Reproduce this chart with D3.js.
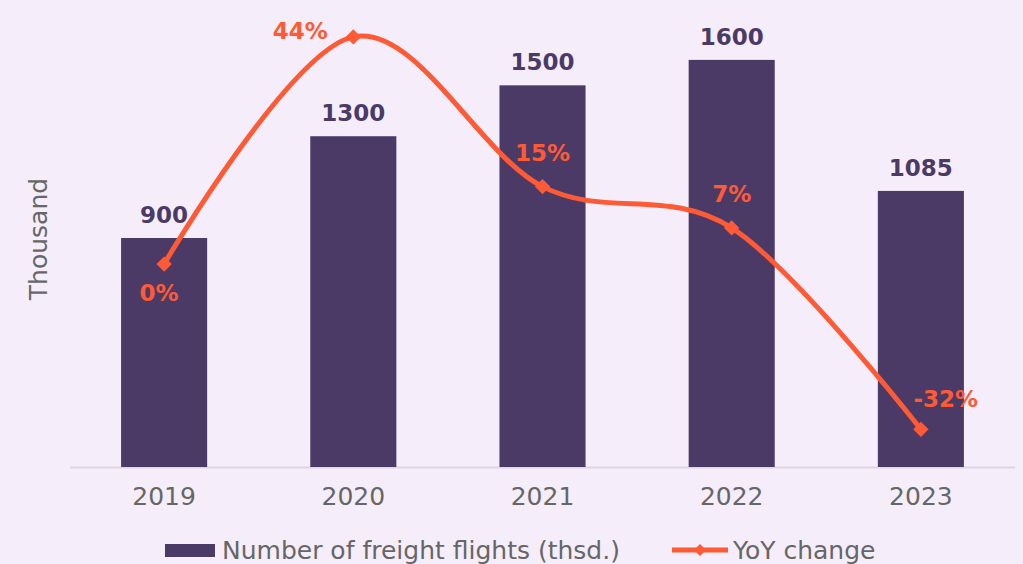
<!DOCTYPE html>
<html>
<head>
<meta charset="utf-8">
<script src="https://cdn.jsdelivr.net/npm/d3@7"></script>
<style>
  body { margin: 0; background: #f5eefa; }
  svg { display: block; font-family: "DejaVu Sans", sans-serif; }
</style>
</head>
<body>
<div id="chart"></div>
<script>
// chart data
let years = ["2019", "2020", "2021", "2022", "2023"];
let flights = [900, 1300, 1500, 1600, 1085];
let yoy = [0, 44, 15, 7, -32];
let yoyLabels = ["0%", "44%", "15%", "7%", "-32%"];

let w = 1023;
let h = 564;
let barColor = "#4b3a66";
let lineColor = "#ff5a36";

let svg = d3.select("#chart")
    .append("svg")
    .attr("width", w)
    .attr("height", h);

svg.append("rect")
    .attr("width", w)
    .attr("height", h)
    .attr("fill", "#f5eefa");

let xScale = d3.scaleBand()
    .domain(years)
    .range([70, 1015])
    .paddingInner(0.545)
    .paddingOuter(0.27);

let yScale = d3.scaleLinear()
    .domain([0, 1800])
    .range([467, 9]);

// second scale for the percent line
let pScale = d3.scaleLinear()
    .domain([-39.3, 49.4])
    .range([467, 9]);

// baseline
svg.append("line")
    .attr("x1", 70)
    .attr("x2", 1015)
    .attr("y1", 467.5)
    .attr("y2", 467.5)
    .attr("stroke", "#dcd6e2")
    .attr("stroke-width", 2);

// x tick labels
let xAxis = d3.axisBottom(xScale).tickSize(0).tickPadding(19);
let xAxisGroup = svg.append("g")
    .attr("transform", "translate(0,468)")
    .call(xAxis);
xAxisGroup.select(".domain").remove();
xAxisGroup.selectAll("text")
    .attr("font-size", 25)
    .attr("font-family", "DejaVu Sans, sans-serif")
    .attr("fill", "#666666");

// y axis title
svg.append("text")
    .attr("transform", "translate(47,239) rotate(-90)")
    .attr("text-anchor", "middle")
    .attr("font-size", 25)
    .attr("fill", "#666666")
    .text("Thousand");

// bars
svg.append("g")
    .selectAll("rect")
    .data(flights)
    .enter()
    .append("rect")
    .attr("x", function (d, i) { return xScale(years[i]); })
    .attr("y", function (d) { return yScale(d); })
    .attr("width", xScale.bandwidth())
    .attr("height", function (d) { return yScale(0) - yScale(d); })
    .attr("fill", barColor);

// bar labels
svg.append("g")
    .selectAll("text")
    .data(flights)
    .enter()
    .append("text")
    .attr("x", function (d, i) { return xScale(years[i]) + xScale.bandwidth() / 2; })
    .attr("y", function (d) { return yScale(d) - 15; })
    .attr("text-anchor", "middle")
    .attr("font-size", 23)
    .attr("font-weight", "bold")
    .attr("fill", barColor)
    .text(function (d) { return d; });

// line
let cx = function (i) { return xScale(years[i]) + xScale.bandwidth() / 2; };
let line = d3.line()
    .x(function (d, i) { return cx(i); })
    .y(function (d) { return pScale(d); })
    .curve(d3.curveCardinal.tension(0));

svg.append("path")
    .datum(yoy)
    .attr("d", line)
    .attr("fill", "none")
    .attr("stroke", lineColor)
    .attr("stroke-width", 5);

let diamond = d3.symbol().type(d3.symbolDiamond2).size(150);
svg.append("g")
    .selectAll("path")
    .data(yoy)
    .enter()
    .append("path")
    .attr("d", diamond)
    .attr("transform", function (d, i) { return "translate(" + cx(i) + "," + pScale(d) + ")"; })
    .attr("fill", lineColor);

// percent labels, offsets per point
let labelDx = [-5, -53, 0, 0, 25];
let labelDy = [37, 2, -26, -26, -22];
svg.append("g")
    .selectAll("text")
    .data(yoy)
    .enter()
    .append("text")
    .attr("x", function (d, i) { return cx(i) + labelDx[i]; })
    .attr("y", function (d, i) { return pScale(d) + labelDy[i]; })
    .attr("text-anchor", "middle")
    .attr("font-size", 23)
    .attr("font-weight", "bold")
    .attr("fill", lineColor)
    .text(function (d, i) { return yoyLabels[i]; });

// legend
let legend = svg.append("g");
legend.append("rect")
    .attr("x", 165)
    .attr("y", 544)
    .attr("width", 50)
    .attr("height", 13)
    .attr("fill", barColor);
legend.append("text")
    .attr("x", 222)
    .attr("y", 559)
    .attr("font-size", 25)
    .attr("fill", "#666666")
    .text("Number of freight flights (thsd.)");
legend.append("line")
    .attr("x1", 672)
    .attr("x2", 728)
    .attr("y1", 550)
    .attr("y2", 550)
    .attr("stroke", lineColor)
    .attr("stroke-width", 5);
legend.append("path")
    .attr("d", d3.symbol().type(d3.symbolDiamond2).size(90))
    .attr("transform", "translate(700,550)")
    .attr("fill", lineColor);
legend.append("text")
    .attr("x", 733)
    .attr("y", 559)
    .attr("font-size", 25)
    .attr("fill", "#666666")
    .text("YoY change");
</script>
</body>
</html>
